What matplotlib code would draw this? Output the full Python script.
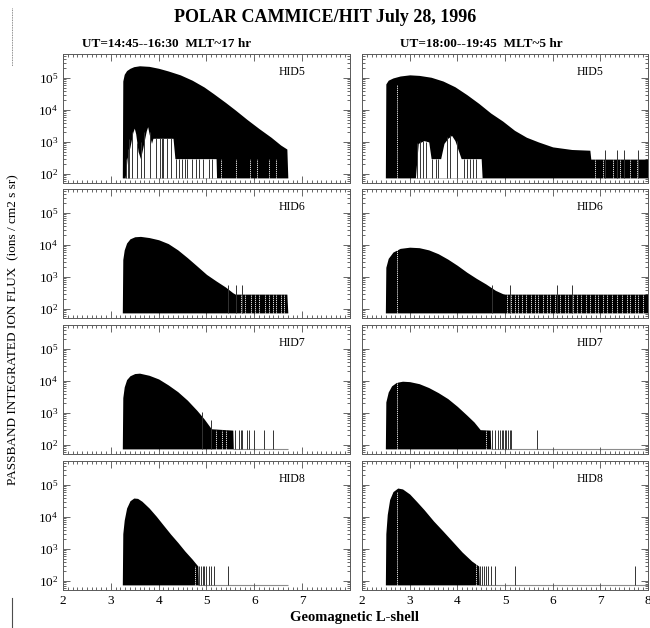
import numpy as np
import matplotlib
matplotlib.use("Agg")
import matplotlib.pyplot as plt
import matplotlib.ticker as mticker

plt.rcParams['font.family'] = ['Liberation Serif', 'DejaVu Serif']
plt.rcParams['mathtext.fontset'] = 'stix'

BASE = 75.0
TAIL = 290.0

# upper envelope of the spin-modulated flux trace, per panel (L-shell, flux)
hid5_am_L = [3.24, 3.25, 3.28, 3.33, 3.40, 3.48, 3.60, 3.80, 4.00, 4.20, 4.45, 4.70, 4.95, 5.15,
             5.40, 5.60, 5.85, 6.10, 6.35, 6.55, 6.68, 6.70]
hid5_am_F = [75, 8e4, 1.3e5, 1.7e5, 2.0e5, 2.25e5, 2.4e5, 2.3e5, 2.0e5, 1.65e5, 1.25e5, 8.5e4,
             5.2e4, 3.2e4, 1.7e4, 1.0e4, 5e3, 2.6e3, 1.4e3, 8e2, 6e2, 75]
hid5_pm_L = [2.49, 2.50, 2.55, 2.65, 2.80, 3.00, 3.20, 3.45, 3.70, 3.95, 4.20, 4.45, 4.70, 4.95,
             5.20, 5.45, 5.70, 6.00, 6.40, 6.78, 6.80, 8.0]
hid5_pm_F = [75, 6.5e4, 8.5e4, 1.0e5, 1.15e5, 1.25e5, 1.2e5, 1.05e5, 8e4, 5.3e4, 3.0e4, 1.6e4,
             8e3, 4.5e3, 2.3e3, 1.4e3, 1.0e3, 700, 580, 550, 290, 290]

hid6_am_L = [3.24, 3.25, 3.28, 3.33, 3.40, 3.50, 3.62, 3.80, 4.00, 4.20, 4.40, 4.60, 4.80, 5.00,
             5.20, 5.40, 5.55, 5.60, 6.68, 6.70]
hid6_am_F = [75, 3.5e3, 7e3, 1.15e4, 1.55e4, 1.8e4, 1.85e4, 1.7e4, 1.45e4, 1.1e4, 7e3, 4e3, 2.2e3,
             1.2e3, 750, 480, 320, 290, 290, 75]
hid6_pm_L = [2.49, 2.50, 2.55, 2.65, 2.80, 3.00, 3.20, 3.40, 3.60, 3.80, 4.00, 4.20, 4.40, 4.60,
             4.80, 4.95, 5.00, 8.0]
hid6_pm_F = [75, 2.0e3, 3.8e3, 6e3, 7.8e3, 8.5e3, 8.2e3, 7e3, 5.3e3, 3.6e3, 2.3e3, 1.4e3, 900,
             600, 380, 300, 290, 290]

hid7_am_L = [3.24, 3.25, 3.28, 3.33, 3.40, 3.50, 3.60, 3.80, 4.00, 4.20, 4.40, 4.60, 4.80, 4.95,
             5.10, 5.55, 5.56]
hid7_am_F = [75, 3.0e3, 6.5e3, 1.1e4, 1.45e4, 1.7e4, 1.75e4, 1.5e4, 1.15e4, 7.5e3, 4.6e3, 2.5e3,
             1.2e3, 650, 320, 290, 75]
hid7_pm_L = [2.49, 2.50, 2.55, 2.62, 2.72, 2.85, 3.00, 3.20, 3.40, 3.60, 3.80, 4.00, 4.20, 4.35,
             4.48, 4.69, 4.70]
hid7_pm_F = [75, 2.2e3, 4.5e3, 7e3, 9e3, 9.8e3, 9.5e3, 8.2e3, 6.2e3, 4.3e3, 2.8e3, 1.6e3, 850, 520,
             300, 290, 75]

hid8_am_L = [3.24, 3.25, 3.28, 3.33, 3.40, 3.48, 3.56, 3.65, 3.80, 3.95, 4.10, 4.25, 4.40, 4.55,
             4.70, 4.82, 4.83]
hid8_am_F = [75, 3e3, 8e3, 1.9e4, 3.2e4, 3.9e4, 3.8e4, 3.1e4, 1.9e4, 1.05e4, 5.5e3, 2.9e3, 1.6e3,
             850, 480, 290, 75]
hid8_pm_L = [2.49, 2.50, 2.53, 2.58, 2.65, 2.75, 2.85, 3.00, 3.15, 3.30, 3.50, 3.70, 3.90, 4.10,
             4.30, 4.45, 4.46]
hid8_pm_F = [75, 3e3, 1.2e4, 3.5e4, 6.2e4, 8e4, 7.5e4, 5.2e4, 3e4, 1.7e4, 7.5e3, 3.6e3, 1.7e3, 800,
             420, 290, 75]

# white notches near the floor (HID5 only)
notch_am_L = [3.30, 3.34, 3.40, 3.46, 3.49, 3.52, 3.57, 3.62, 3.68, 3.74, 3.77, 3.80, 3.85, 3.88,
              3.92, 4.30, 4.34, 5.20, 5.21]
notch_am_F = [75, 300, 700, 2000, 2700, 1800, 500, 300, 800, 2200, 3000, 1800, 900, 1300,
              1300, 1300, 300, 300, 75]
notch_pm_L = [3.12, 3.18, 3.30, 3.40, 3.45, 3.50, 3.65, 3.72, 3.80, 3.88, 3.95, 4.08, 4.12, 4.50, 4.52]
notch_pm_F = [75, 900, 1100, 1000, 300, 300, 300, 900, 1300, 1600, 1100, 300, 300, 300, 75]

# individual spikes (L, top flux)
spk_hid5_am_L = [3.31, 3.36, 3.39, 3.44, 3.55, 3.63, 3.70, 3.81, 3.95, 4.02, 4.08, 4.10, 4.18, 4.25,
                 4.36, 4.42, 4.48, 4.55, 4.60, 4.70, 4.78, 4.85, 4.92, 5.05, 5.12]
spk_hid5_am_F = [300, 600, 1200, 2000, 900, 1000, 2000, 2000, 1300, 1300, 1300, 1300, 1300, 1300,
                 300, 300, 300, 300, 300, 300, 300, 300, 300, 300, 300]
spk_hid5_pm_L = [3.16, 3.22, 3.27, 3.35, 3.47, 3.55, 3.60, 3.78, 3.85, 4.00, 4.15, 4.20, 4.26, 4.33,
                 4.40, 7.10, 7.35, 7.50, 7.80]
spk_hid5_pm_F = [900, 1100, 1100, 1000, 300, 300, 300, 1400, 1600, 1100, 300, 300, 300, 300, 300,
                 550, 550, 550, 550]
spk_hid6_am_L = [5.45, 5.62, 5.75]
spk_hid6_am_F = [550, 550, 550]
spk_hid6_pm_L = [4.72, 5.10, 6.10, 6.40]
spk_hid6_pm_F = [550, 550, 550, 550]
spk_hid7_am_L = [4.90, 5.10, 5.60, 5.68, 5.72, 5.75, 5.85, 5.88, 6.00, 6.20, 6.40]
spk_hid7_am_F = [1100, 600, 290, 290, 290, 290, 290, 290, 290, 290, 290]
spk_hid7_pm_L = [4.72, 4.78, 4.85, 4.90, 4.93, 4.96, 5.00, 5.03, 5.07, 5.10, 5.13, 5.67]
spk_hid7_pm_F = [290] * 12
spk_hid8_am_L = [4.85, 4.88, 4.92, 4.95, 5.00, 5.05, 5.10, 5.15, 5.45]
spk_hid8_am_F = [290] * 9
spk_hid8_pm_L = [4.48, 4.52, 4.55, 4.60, 4.65, 4.70, 4.80, 5.20, 7.72]
spk_hid8_pm_F = [290] * 9

# white gaps inside the black (data dropouts)
gap_hid5_am = [5.30, 5.62, 5.90, 6.05, 6.30, 6.45]
gap_hid5_pm = [2.73, 6.89, 7.06, 7.27, 7.41, 7.62, 7.77]
gap_hid6_am = [5.72, 5.80, 5.92, 6.02, 6.10, 6.22, 6.30, 6.38, 6.46, 6.55, 6.62]
gap_hid6_pm = [2.73, 5.05, 5.12, 5.20, 5.28, 5.35, 5.45, 5.55, 5.62, 5.70, 5.80, 5.88, 5.95, 6.05,
               6.15, 6.25, 6.32, 6.42, 6.52, 6.60, 6.70, 6.78, 6.88, 6.95, 7.05, 7.15, 7.25,
               7.35, 7.45, 7.55, 7.62, 7.72, 7.80, 7.90]
gap_hid7_am = [5.20, 5.32, 5.40]
gap_hid7_pm = [2.73, 4.60]
gap_hid8_am = [4.75]
gap_hid8_pm = [2.73, 4.40]

# line drawn at the floor after the data ends
floor_end = {'am': 6.7, 'pm': 8.0}

panels = [
    ('HID5', 'am', hid5_am_L, hid5_am_F, notch_am_L, notch_am_F, spk_hid5_am_L, spk_hid5_am_F, gap_hid5_am),
    ('HID5', 'pm', hid5_pm_L, hid5_pm_F, notch_pm_L, notch_pm_F, spk_hid5_pm_L, spk_hid5_pm_F, gap_hid5_pm),
    ('HID6', 'am', hid6_am_L, hid6_am_F, None, None, spk_hid6_am_L, spk_hid6_am_F, gap_hid6_am),
    ('HID6', 'pm', hid6_pm_L, hid6_pm_F, None, None, spk_hid6_pm_L, spk_hid6_pm_F, gap_hid6_pm),
    ('HID7', 'am', hid7_am_L, hid7_am_F, None, None, spk_hid7_am_L, spk_hid7_am_F, gap_hid7_am),
    ('HID7', 'pm', hid7_pm_L, hid7_pm_F, None, None, spk_hid7_pm_L, spk_hid7_pm_F, gap_hid7_pm),
    ('HID8', 'am', hid8_am_L, hid8_am_F, None, None, spk_hid8_am_L, spk_hid8_am_F, gap_hid8_am),
    ('HID8', 'pm', hid8_pm_L, hid8_pm_F, None, None, spk_hid8_pm_L, spk_hid8_pm_F, gap_hid8_pm),
]

subtitles = ['UT=14:45--16:30  MLT~17 hr', 'UT=18:00--19:45  MLT~5 hr']

W, H = 650, 628
fig = plt.figure(figsize=(W / 100, H / 100), dpi=100)

col_x = [63, 362]
col_w = [287, 286]
row_top = [54, 189, 325, 461]
row_h = 129


def style_axis(ax, row, col):
    ax.set_xlim(2, 8)
    ax.set_yscale('log')
    ax.set_ylim(52, 5.6e5)
    ax.xaxis.set_major_locator(mticker.MultipleLocator(1))
    ax.xaxis.set_minor_locator(mticker.MultipleLocator(0.1))
    ax.yaxis.set_major_locator(mticker.LogLocator(base=10, numticks=10))
    ax.yaxis.set_minor_locator(mticker.LogLocator(base=10, subs=np.arange(2, 10), numticks=20))
    ax.tick_params(which='both', direction='in', top=True, right=True, color='0.3', width=0.6)
    ax.tick_params(which='major', length=5, labelsize=9.5)
    ax.tick_params(which='minor', length=2.2)
    for s in ax.spines.values():
        s.set_linewidth(0.7)
        s.set_color('0.35')
    ax.set_yticks([1e2, 1e3, 1e4, 1e5])
    if col == 1:
        ax.tick_params(labelleft=False)
    if row < 3:
        ax.tick_params(labelbottom=False)
    else:
        ax.set_xticks([2, 3, 4, 5, 6, 7, 8])
        if col == 0:
            ax.set_xticklabels(['2', '3', '4', '5', '6', '7', ''])


for i, (name, half, L, F, nL, nF, sL, sF, gaps) in enumerate(panels):
    row, col = divmod(i, 2)
    left = col_x[col] / W
    bottom = 1 - (row_top[row] + row_h) / H
    ax = fig.add_axes([left, bottom, col_w[col] / W, row_h / H])
    style_axis(ax, row, col)

    ax.hlines(BASE, L[-1], floor_end[half], color='0.55', lw=0.8, zorder=1)
    ax.fill_between(L, BASE, F, color='black', lw=0, zorder=2)
    if nL is not None:
        ax.fill_between(nL, BASE, nF, color='white', lw=0, zorder=3)
    ax.vlines(sL, BASE, sF, color='0.2', lw=0.7, zorder=4)
    gap_top = [TAIL if g > 4.5 else 6e4 for g in gaps]
    ax.vlines(gaps, BASE, gap_top, color='white', lw=0.6, linestyles=(0, (1.5, 1)), zorder=5)

    ax.text(0.75, 0.86, name, transform=ax.transAxes, fontsize=8.5, ha='left', va='center')

fig.text(0.5, 1 - 18 / H, 'POLAR CAMMICE/HIT July 28, 1996', ha='center', va='center',
         fontsize=13, fontweight='bold')
fig.text(167 / W, 1 - 44 / H, subtitles[0], ha='center', va='center', fontsize=9.5, fontweight='bold')
fig.text(481 / W, 1 - 44 / H, subtitles[1], ha='center', va='center', fontsize=9.5, fontweight='bold')
fig.text(13 / W, 1 - 330 / H, 'PASSBAND INTEGRATED ION FLUX  (ions / cm2 s sr)', rotation=90,
         ha='center', va='center', fontsize=9.5)
fig.text(355 / W, 1 - 617 / H, 'Geomagnetic L-shell', ha='center', va='center',
         fontsize=10.5, fontweight='bold')

# stray marks at the left edge of the scanned page
fig.add_artist(plt.Line2D([12 / W, 12 / W], [1 - 8 / H, 1 - 66 / H], color='0.4', lw=0.6,
                          linestyle=(0, (1, 1))))
fig.add_artist(plt.Line2D([12 / W, 12 / W], [0, 1 - 598 / H], color='0.3', lw=0.8))

fig.savefig('out.png', dpi=100)
